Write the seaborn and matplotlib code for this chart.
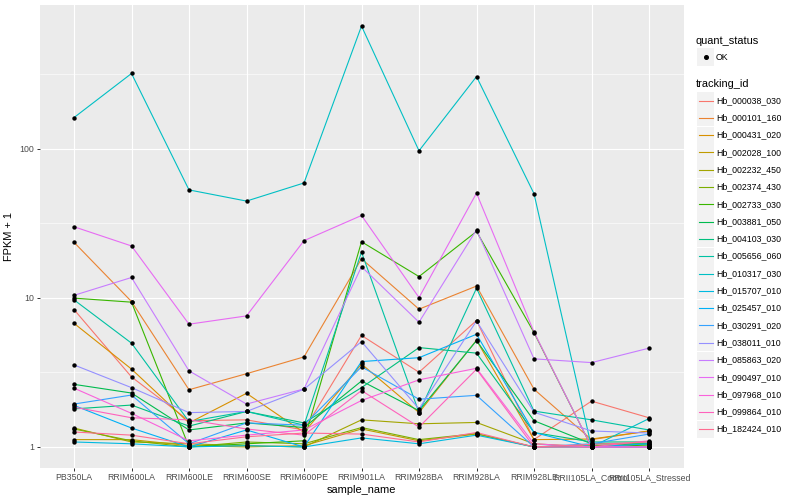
import numpy as np
import pandas as pd
import matplotlib
matplotlib.use("Agg")
import matplotlib.pyplot as plt
import seaborn as sns
from matplotlib.patches import Rectangle
from matplotlib.lines import Line2D
from matplotlib.ticker import NullFormatter

plt.rcParams['font.family'] = ['Liberation Sans', 'DejaVu Sans']

samples = ["PB350LA", "RRIM600LA", "RRIM600LE", "RRIM600SE", "RRIM600PE",
           "RRIM901LA", "RRIM928BA", "RRIM928LA", "RRIM928LE",
           "RRII105LA_Control", "RRII105LA_Stressed"]

# FPKM + 1 values per gene, one per sample
hb_000038_030 = [8.35, 2.95, 1.50, 1.52, 1.30, 5.60, 3.17, 7.05, 1.12, 2.03, 1.57]
hb_000101_160 = [23.6, 9.45, 2.42, 3.10, 4.02, 18.3, 8.40, 12.0, 2.44, 1.12, 1.28]
hb_000431_020 = [6.75, 3.33, 1.45, 2.29, 1.25, 3.60, 1.70, 5.20, 1.12, 1.13, 1.28]
hb_002028_100 = [1.12, 1.12, 1.02, 1.00, 1.02, 1.32, 1.10, 1.22, 1.00, 1.00, 1.00]
hb_002232_450 = [1.34, 1.08, 1.05, 1.02, 1.00, 1.52, 1.43, 1.46, 1.05, 1.00, 1.00]
hb_002374_430 = [1.32, 1.10, 1.00, 1.08, 1.05, 1.35, 1.12, 1.23, 1.00, 1.02, 1.05]
hb_002733_030 = [9.96, 9.36, 1.00, 1.05, 1.10, 23.8, 13.9, 27.9, 5.85, 1.00, 1.03]
hb_003881_050 = [2.63, 2.30, 1.30, 1.45, 1.35, 2.77, 1.75, 5.17, 1.50, 1.05, 1.05]
hb_004103_030 = [1.80, 1.91, 1.38, 1.73, 1.45, 2.50, 4.64, 4.26, 1.25, 1.08, 1.08]
hb_005656_060 = [9.70, 4.97, 1.48, 1.73, 1.40, 20.3, 1.70, 11.6, 1.74, 1.52, 1.30]
hb_010317_030 = [162, 320, 53, 44.6, 59, 666, 97, 305, 50, 1.00, 1.55]
hb_015707_010 = [1.08, 1.05, 1.00, 1.02, 1.00, 1.15, 1.05, 1.20, 1.00, 1.00, 1.00]
hb_025457_010 = [1.90, 1.34, 1.00, 1.30, 1.00, 3.74, 3.97, 5.70, 1.25, 1.00, 1.05]
hb_030291_020 = [1.94, 2.23, 1.05, 1.45, 1.40, 3.45, 2.09, 2.22, 1.00, 1.05, 1.22]
hb_038011_010 = [3.55, 2.50, 1.70, 1.73, 2.44, 5.09, 1.80, 7.00, 1.71, 1.28, 1.24]
hb_085863_020 = [10.4, 13.7, 3.24, 1.94, 2.45, 16.2, 6.87, 28.6, 3.90, 3.68, 4.60]
hb_090497_010 = [30.0, 22.3, 6.66, 7.57, 24.2, 35.7, 10.05, 50.4, 5.90, 1.00, 1.00]
hb_097968_010 = [2.48, 1.68, 1.10, 1.20, 1.30, 2.05, 2.82, 3.37, 1.05, 1.00, 1.00]
hb_099864_010 = [1.85, 1.57, 1.52, 1.32, 1.20, 2.39, 1.36, 3.32, 1.00, 1.00, 1.10]
hb_182424_010 = [1.26, 1.20, 1.05, 1.17, 1.24, 1.22, 1.08, 1.25, 1.00, 1.04, 1.08]

tracking_ids = ["Hb_000038_030", "Hb_000101_160", "Hb_000431_020", "Hb_002028_100",
                "Hb_002232_450", "Hb_002374_430", "Hb_002733_030", "Hb_003881_050",
                "Hb_004103_030", "Hb_005656_060", "Hb_010317_030", "Hb_015707_010",
                "Hb_025457_010", "Hb_030291_020", "Hb_038011_010", "Hb_085863_020",
                "Hb_090497_010", "Hb_097968_010", "Hb_099864_010", "Hb_182424_010"]
series = [hb_000038_030, hb_000101_160, hb_000431_020, hb_002028_100, hb_002232_450,
          hb_002374_430, hb_002733_030, hb_003881_050, hb_004103_030, hb_005656_060,
          hb_010317_030, hb_015707_010, hb_025457_010, hb_030291_020, hb_038011_010,
          hb_085863_020, hb_090497_010, hb_097968_010, hb_099864_010, hb_182424_010]

colors = ["#F8766D", "#EA8331", "#D89000", "#C09B00", "#A3A500", "#7CAE00", "#39B600",
          "#00BB4E", "#00BF7D", "#00C1A3", "#00BFC4", "#00BAE0", "#00B0F6", "#35A2FF",
          "#9590FF", "#C77CFF", "#E76BF3", "#FA62DB", "#FF62BC", "#FF6C91"]

rows = []
for tid, vals in zip(tracking_ids, series):
    for s, v in zip(samples, vals):
        rows.append((tid, s, v, "OK"))
df = pd.DataFrame(rows, columns=["tracking_id", "sample_name", "fpkm", "quant_status"])

W, H = 800, 500
fig = plt.figure(figsize=(W / 100, H / 100), dpi=100)
ax = fig.add_axes([39.5 / W, 32 / H, 644 / W, 463 / H])
ax.set_facecolor("#EBEBEB")

sns.lineplot(data=df, x="sample_name", y="fpkm", hue="tracking_id",
             hue_order=tracking_ids, palette=dict(zip(tracking_ids, colors)),
             estimator=None, sort=False, legend=False, linewidth=0.8, ax=ax)
sns.scatterplot(data=df, x="sample_name", y="fpkm", color="black", s=10,
                linewidth=0, legend=False, ax=ax, zorder=5)

ax.set_yscale("log")
lo, hi = np.log10(df.fpkm.min()), np.log10(df.fpkm.max())
pad = 0.05 * (hi - lo)
ax.set_ylim(10 ** (lo - pad), 10 ** (hi + pad))
ax.set_xlim(-0.6, len(samples) - 0.4)
ax.set_yticks([1, 10, 100])
ax.set_yticklabels(["1", "10", "100"])
ax.set_yticks([10 ** 0.5, 10 ** 1.5, 10 ** 2.5], minor=True)
ax.yaxis.set_minor_formatter(NullFormatter())
ax.grid(which="major", color="white", lw=0.8)
ax.grid(which="minor", axis="y", color="white", lw=0.4)
ax.set_axisbelow(True)
for sp in ax.spines.values():
    sp.set_visible(False)
ax.tick_params(which="major", length=2, width=0.7, color="#333333",
               labelsize=6.3, labelcolor="#4D4D4D", pad=1.6)
ax.tick_params(which="minor", length=0)
ax.set_xlabel("sample_name", fontsize=7.9, labelpad=2)
ax.set_ylabel("FPKM + 1", fontsize=7.9, labelpad=4)


def fx(x):
    return x / W


def fy(y):
    return 1 - y / H


# legend: quant_status
fig.text(fx(696), fy(40.5), "quant_status", fontsize=7.9, va="center", ha="left")
fig.patches.append(Rectangle((fx(697), fy(65.5)), 17 / W, 17 / H, transform=fig.transFigure,
                             facecolor="#F2F2F2", edgecolor="none"))
fig.lines.append(Line2D([fx(705.5)], [fy(57)], marker="o", markersize=2.6, color="black",
                        transform=fig.transFigure))
fig.text(fx(716), fy(57), "OK", fontsize=6.3, va="center", ha="left")

# legend: tracking_id
fig.text(fx(696), fy(84), "tracking_id", fontsize=7.9, va="center", ha="left")
for i, (tid, c) in enumerate(zip(tracking_ids, colors)):
    cy = 100.5 + i * 17.3
    fig.patches.append(Rectangle((fx(697), fy(cy + 8.5)), 17 / W, 17 / H,
                                 transform=fig.transFigure, facecolor="#F2F2F2",
                                 edgecolor="none"))
    fig.lines.append(Line2D([fx(698.5), fx(712.5)], [fy(cy), fy(cy)], color=c, lw=0.8,
                            transform=fig.transFigure))
    fig.text(fx(716.5), fy(cy), tid, fontsize=6.3, va="center", ha="left")

fig.savefig("out.png", dpi=100)
